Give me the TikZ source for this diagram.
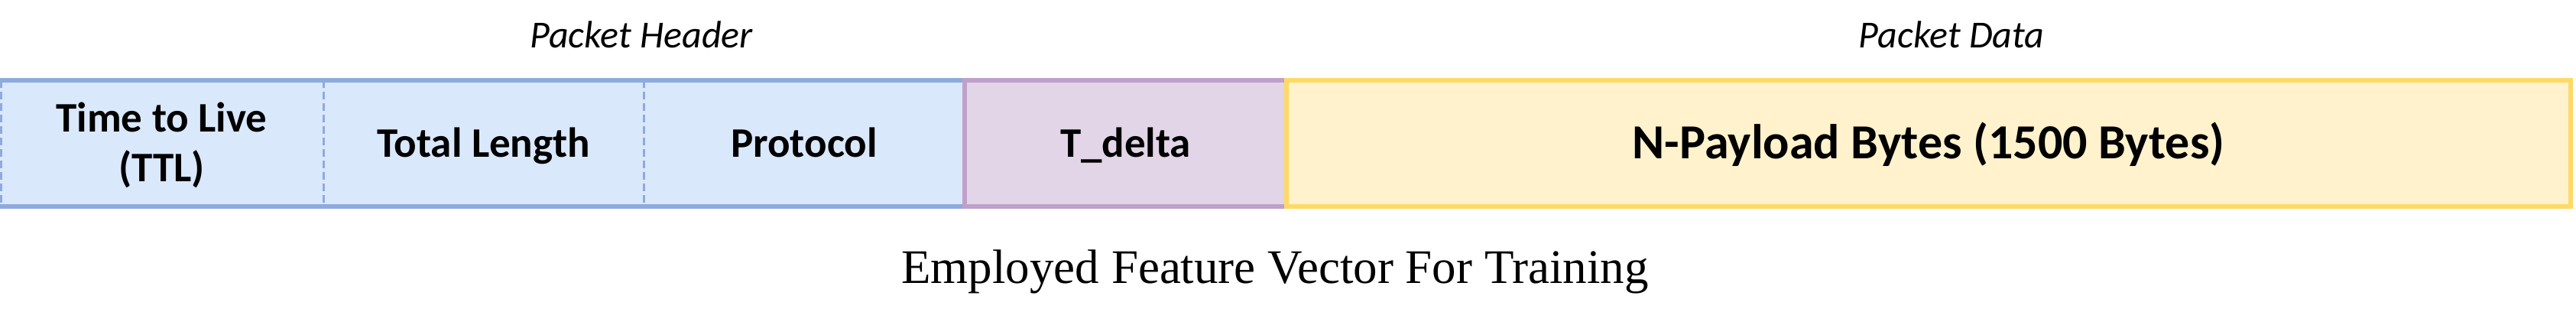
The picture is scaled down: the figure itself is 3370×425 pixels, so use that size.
\documentclass[tikz,border=0pt]{standalone}
\usepackage{fontspec}
\setmainfont{Liberation Serif}
\newfontfamily\calfont{Carlito}
\definecolor{bluefill}{HTML}{DAE8FC}
\definecolor{blueline}{HTML}{8FAADC}
\definecolor{purfill}{HTML}{E1D5E7}
\definecolor{purline}{HTML}{BFA0CA}
\definecolor{yelfill}{HTML}{FFF2CC}
\definecolor{yelline}{HTML}{FFD966}
\begin{document}
\begin{tikzpicture}[x=1pt,y=-1pt,
  cellbox/.style={rectangle,inner sep=0pt,outer sep=0pt,minimum height=165pt,
    text height=35pt,text depth=0pt,font=\calfont\bfseries\fontsize{55}{65}\selectfont,align=center},
  bluecell/.style={cellbox,fill=bluefill},
  dashdiv/.style={draw=blueline,line width=3pt,dash pattern=on 10pt off 5pt},
  solidblue/.style={draw=blueline,line width=6pt},
  grouplabel/.style={anchor=base,inner sep=0pt,font=\calfont\itshape\fontsize{50}{60}\selectfont},
]
\useasboundingbox (0,0) rectangle (3370,425);
\fill[white] (0,0) rectangle (3370,425);
% blue header cells
\node[bluecell,minimum width=423pt,text height=100pt] (ttl) at (211.5,187.5) {Time to Live\\(TTL)};
\node[bluecell,minimum width=419pt] (tlen) at (632.5,187.5) {Total Length};
\node[bluecell,minimum width=420pt] (proto) at (1052,187.5) {Protocol};
% dashed dividers
\draw[dashdiv] ([xshift=1.5pt]ttl.north west) -- ([xshift=1.5pt]ttl.south west);
\draw[dashdiv] (ttl.north east) -- (ttl.south east);
\draw[dashdiv] (tlen.north east) -- (tlen.south east);
% solid top/bottom of header
\draw[solidblue] (ttl.north west) -- (proto.north east);
\draw[solidblue] (ttl.south west) -- (proto.south east);
% T_delta
\node[cellbox,fill=purfill,draw=purline,line width=6pt,minimum width=421pt] (tdelta) at (1472.5,187.5) {T\_delta};
% payload
\node[cellbox,fill=yelfill,draw=yelline,line width=6pt,minimum width=1680pt,
  text height=40pt,font=\calfont\bfseries\fontsize{64}{72}\selectfont] (payload) at (2523,187.5) {N-Payload Bytes (1500 Bytes)};
% group labels
\node[grouplabel] (hdr) at (839,63) {Packet Header};
\node[grouplabel] (data) at (2553,63) {Packet Data};
% caption
\node[anchor=base,inner sep=0pt,font=\fontsize{63}{72}\selectfont] (cap) at (1668,370) {Employed Feature Vector For Training};
\end{tikzpicture}
\end{document}
